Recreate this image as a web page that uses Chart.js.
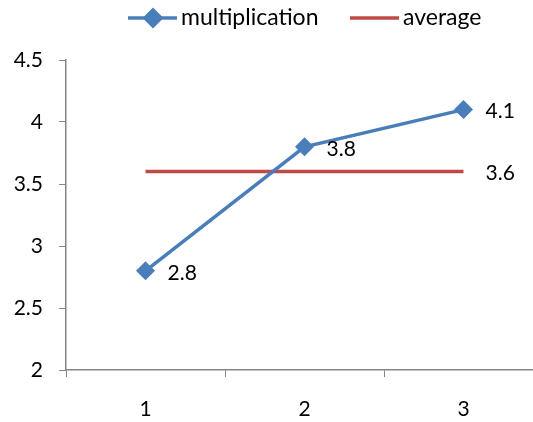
<!DOCTYPE html>
<html>
<head>
<meta charset="utf-8">
<script src="https://cdn.jsdelivr.net/npm/chart.js@4/dist/chart.umd.min.js"></script>
<style>
  html, body { margin: 0; padding: 0; background: #fff; overflow: hidden; }
  /* the plot area runs a little past the visible right edge */
  #wrap { width: 533px; height: 422px; overflow: hidden; }
  #c { display: block; }
</style>
</head>
<body>
<div id="wrap"><canvas id="c" width="543" height="422"></canvas></div>
<script>
// Categories and series
const categories = ['1', '2', '3'];
const multiplication = [2.8, 3.8, 4.1];
const average = [3.6, 3.6, 3.6];
const yTicks = [2, 2.5, 3, 3.5, 4, 4.5];

const FONT = 'Lato, "Open Sans", sans-serif';
const FONT_SIZE = 21;
const LEGEND_SIZE = 23;
const TEXT = '#000';
const AXIS = '#868686';
const BLUE = '#4a7ebb';
const RED = '#be4b48';

// Legend drawn as line + marker samples centred above the plot
const legendPlugin = {
  id: 'lineLegend',
  afterDraw(chart) {
    const ctx = chart.ctx;
    ctx.save();
    ctx.font = LEGEND_SIZE + 'px ' + FONT;
    ctx.textBaseline = 'middle';
    ctx.textAlign = 'left';
    const y = 18;
    const items = [
      { ds: chart.data.datasets[0], x: 128 },
      { ds: chart.data.datasets[1], x: 350 }
    ];
    items.forEach(it => {
      const ds = it.ds;
      ctx.strokeStyle = ds.borderColor;
      ctx.lineWidth = ds.borderWidth;
      ctx.beginPath();
      ctx.moveTo(it.x, y);
      ctx.lineTo(it.x + 49, y);
      ctx.stroke();
      if (ds.pointRadius > 0) {
        Chart.helpers.drawPoint(ctx, {
          pointStyle: ds.pointStyle, radius: ds.pointRadius - 1.5, rotation: 0, borderWidth: 1
        }, it.x + 25, y);
        ctx.fillStyle = ds.pointBackgroundColor;
        ctx.fill();
      }
      ctx.fillStyle = TEXT;
      ctx.fillText(ds.label, it.x + 53, y);
    });
    ctx.restore();
  }
};

// Value labels to the right of the points
const valueLabels = {
  id: 'valueLabels',
  afterDatasetsDraw(chart) {
    const ctx = chart.ctx;
    ctx.save();
    ctx.font = FONT_SIZE + 'px ' + FONT;
    ctx.fillStyle = TEXT;
    ctx.textAlign = 'left';
    ctx.textBaseline = 'middle';
    chart.data.datasets.forEach((ds, i) => {
      const meta = chart.getDatasetMeta(i);
      meta.data.forEach((pt, j) => {
        if (ds.labelLast && j !== meta.data.length - 1) return;
        ctx.fillText(String(ds.data[j]), pt.x + 22, pt.y + 2);
      });
    });
    ctx.restore();
  }
};

new Chart(document.getElementById('c'), {
  type: 'line',
  data: {
    labels: categories,
    datasets: [
      {
        label: 'multiplication',
        data: multiplication,
        borderColor: BLUE,
        backgroundColor: BLUE,
        pointBackgroundColor: BLUE,
        pointBorderColor: BLUE,
        borderWidth: 3.5,
        pointStyle: 'rectRot',
        pointRadius: 9.5,
        pointBorderWidth: 0,
        tension: 0
      },
      {
        label: 'average',
        data: average,
        borderColor: RED,
        backgroundColor: RED,
        borderWidth: 3.5,
        pointRadius: 0,
        tension: 0,
        labelLast: true
      }
    ]
  },
  options: {
    responsive: false,
    animation: false,
    layout: { autoPadding: false, padding: { top: 60, right: 0, left: 0, bottom: 0 } },
    plugins: {
      legend: { display: false },
      tooltip: { enabled: false }
    },
    scales: {
      x: {
        type: 'category',
        offset: true,
        grid: {
          offset: true,
          drawOnChartArea: false,
          drawTicks: true,
          tickLength: 7,
          color: AXIS
        },
        border: { color: AXIS, width: 1.5 },
        ticks: { color: TEXT, font: { family: FONT, size: FONT_SIZE }, padding: 20 },
        afterFit(scale) {
          scale.height = 52;
          scale.paddingLeft = 0;
          scale.paddingRight = 0;
        }
      },
      y: {
        min: 2,
        max: 4.5,
        afterBuildTicks(scale) { scale.ticks = yTicks.map(v => ({ value: v })); },
        grid: {
          drawOnChartArea: false,
          drawTicks: true,
          tickLength: 7,
          color: AXIS
        },
        border: { color: AXIS, width: 1.5 },
        ticks: { color: TEXT, font: { family: FONT, size: FONT_SIZE }, padding: 16,
          callback: v => String(v) },
        afterFit(scale) { scale.width = 66; }
      }
    }
  },
  plugins: [legendPlugin, valueLabels]
});
</script>
</body>
</html>
